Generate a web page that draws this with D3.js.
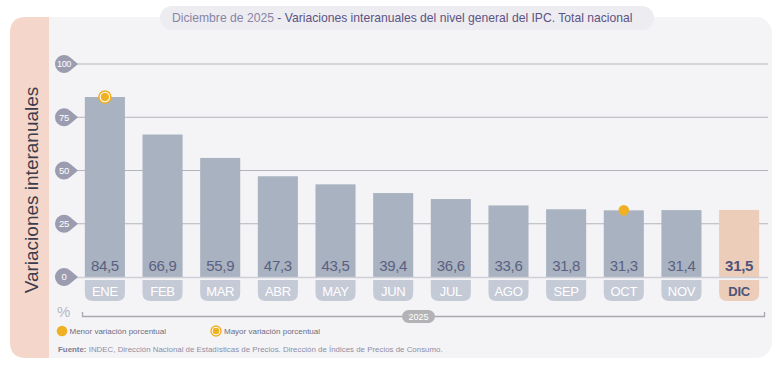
<!DOCTYPE html>
<html><head><meta charset="utf-8">
<script src="https://cdn.jsdelivr.net/npm/d3@7"></script>
<style>body{margin:0;background:#fff;}svg{display:block;font-family:"Liberation Sans",Arial,sans-serif;}</style>
</head><body>
<svg id="c" width="779" height="365"></svg>
<script>
const months = ["ENE","FEB","MAR","ABR","MAY","JUN","JUL","AGO","SEP","OCT","NOV","DIC"];
const values = [84.5,66.9,55.9,47.3,43.5,39.4,36.6,33.6,31.8,31.3,31.4,31.5];
const yTicks = [0,25,50,75,100];
const year = "2025";
const minMonth = "OCT", maxMonth = "ENE";

const svg = d3.select("#c");
// panel
svg.append("rect").attr("x",10).attr("y",17).attr("width",762).attr("height",341).attr("rx",16).attr("fill","#f4f4f7");
// peach strip
svg.append("path").attr("d","M49,17 L26,17 Q10,17 10,33 L10,342 Q10,358 26,358 L49,358 Z").attr("fill","#f4d6ca");
// title pill
svg.append("rect").attr("x",160).attr("y",6).attr("width",494).attr("height",24).attr("rx",12).attr("fill","#ececf1");
const title = svg.append("text").attr("x",172).attr("y",22).attr("font-size",12.15);
title.append("tspan").attr("fill","#8a84a6").text("Diciembre de 2025");
title.append("tspan").attr("fill","#5e5384").text(" - Variaciones interanuales del nivel general del IPC. Total nacional");

// y-axis title
svg.append("text").attr("transform","translate(38,190) rotate(-90)").attr("text-anchor","middle")
  .attr("font-size",19).attr("fill","#3c3c4c").text("Variaciones interanuales");

const y = d3.scaleLinear().domain([0,100]).range([277,64]);
const x = d3.scaleBand().domain(months).range([76.2,767.8]).paddingInner(0.305).paddingOuter(0.15);

// grid lines
yTicks.forEach(t=>{
  if(t===0) return;
  svg.append("line").attr("x1",75).attr("x2",768).attr("y1",y(t)).attr("y2",y(t)).attr("stroke","#b4b4bc").attr("stroke-width",1);
});

// bars
svg.selectAll("rect.bar").data(values).join("rect").attr("class","bar")
  .attr("x",(d,i)=>x(months[i])).attr("width",x.bandwidth())
  .attr("y",d=>y(d)).attr("height",d=>y(0)-y(d))
  .attr("fill",(d,i)=>months[i]==="DIC"?"#ebcdb9":"#a8b2c0");

// zero line
svg.append("line").attr("x1",75).attr("x2",768).attr("y1",y(0)+0.5).attr("y2",y(0)+0.5).attr("stroke","#cfcfd8").attr("stroke-width",1.5);

// value labels
svg.selectAll("text.val").data(values).join("text").attr("class","val")
  .attr("x",(d,i)=>x(months[i])+x.bandwidth()/2).attr("y",271).attr("text-anchor","middle")
  .attr("font-size",15).attr("fill",(d,i)=>months[i]==="DIC"?"#4f5478":"#5c6080")
  .attr("font-weight",(d,i)=>months[i]==="DIC"?"bold":"normal")
  .attr("letter-spacing",-0.3)
  .text(d=>d3.format(".1f")(d).replace(".",","));

// month pills
months.forEach(m=>{
  const x0 = x(m), w = x.bandwidth(), y0 = 280, h = 21, r = 8;
  svg.append("path").attr("d",`M${x0},${y0} L${x0+w},${y0} L${x0+w},${y0+h-r} Q${x0+w},${y0+h} ${x0+w-r},${y0+h} L${x0+r},${y0+h} Q${x0},${y0+h} ${x0},${y0+h-r} Z`)
    .attr("fill",m==="DIC"?"#ebcdb9":"#c5cad7");
  svg.append("text").attr("x",x0+w/2).attr("y",296).attr("text-anchor","middle").attr("font-size",13)
    .attr("fill",m==="DIC"?"#4f5478":"#ffffff").attr("font-weight",m==="DIC"?"bold":"normal").attr("letter-spacing",-0.3).text(m);
});

// y tick teardrops
yTicks.forEach(t=>{
  const cy = y(t), cx = 64;
  svg.append("path").attr("d",`M${cx+14},${cy} L${cx+6},${cy-6.7} A9,9 0 1,0 ${cx+6},${cy+6.7} Z`).attr("fill","#9c9cb1");
  svg.append("text").attr("x",cx).attr("y",cy+3.3).attr("text-anchor","middle").attr("font-size",t===100?9:9.5).attr("fill","#ffffff").attr("letter-spacing",-0.3).text(t);
});

// markers
const iMax = months.indexOf(maxMonth), iMin = months.indexOf(minMonth);
svg.append("circle").attr("cx",x(maxMonth)+x.bandwidth()/2).attr("cy",y(values[iMax])).attr("r",6).attr("fill","#fff").attr("stroke","#f0b024").attr("stroke-width",1.6);
svg.append("circle").attr("cx",x(maxMonth)+x.bandwidth()/2).attr("cy",y(values[iMax])).attr("r",4.2).attr("fill","#f0b024");
svg.append("circle").attr("cx",x(minMonth)+x.bandwidth()/2).attr("cy",y(values[iMin])).attr("r",5.3).attr("fill","#f0b024");

// % and year bracket
svg.append("text").attr("x",57).attr("y",317).attr("font-size",15).attr("fill","#b8b8c4").text("%");
svg.append("path").attr("d","M82.5,312 L82.5,316.5 L764.5,316.5 L764.5,312").attr("fill","none").attr("stroke","#a8a8ae").attr("stroke-width",1.3);
svg.append("rect").attr("x",402).attr("y",310).attr("width",33).attr("height",13).attr("rx",6.5).attr("fill","#b3b3b7");
svg.append("text").attr("x",418.5).attr("y",320).attr("text-anchor","middle").attr("font-size",9).attr("fill","#fff").text(year);

// legend
svg.append("circle").attr("cx",62).attr("cy",331).attr("r",5.3).attr("fill","#f0b024");
svg.append("text").attr("x",69.5).attr("y",334).attr("font-size",8).attr("fill","#6c6c82").text("Menor variación porcentual");
svg.append("circle").attr("cx",216).attr("cy",331).attr("r",5).attr("fill","#fff").attr("stroke","#f0b024").attr("stroke-width",1.4);
svg.append("circle").attr("cx",216).attr("cy",331).attr("r",3.3).attr("fill","#f0b024");
svg.append("text").attr("x",224).attr("y",334).attr("font-size",8).attr("fill","#6c6c82").text("Mayor variación porcentual");

// source
const src = svg.append("text").attr("x",58).attr("y",351.5).attr("font-size",7.9).attr("fill","#8e8ea4");
src.append("tspan").attr("font-weight","bold").attr("fill","#7c7c94").text("Fuente:");
src.append("tspan").text(" INDEC, Dirección Nacional de Estadísticas de Precios. Dirección de Índices de Precios de Consumo.");
</script>
</body></html>
